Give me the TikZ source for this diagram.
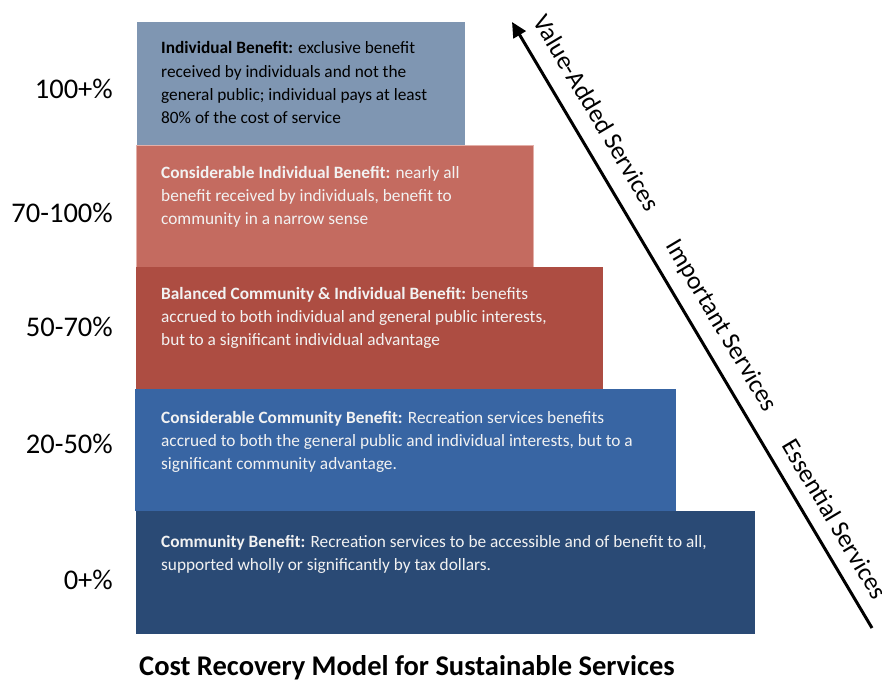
\documentclass[tikz,border=0pt]{standalone}
\usepackage{fontspec}
\setmainfont{Carlito}
\usetikzlibrary{arrows.meta}
\definecolor{cA}{HTML}{7F96B2}
\definecolor{cB}{HTML}{C46B60}
\definecolor{cBl}{HTML}{E3AFA8}
\definecolor{cC}{HTML}{AD4D42}
\definecolor{cD}{HTML}{3865A3}
\definecolor{cE}{HTML}{2A4A75}
\definecolor{txtw}{HTML}{F2F2F2}
\tikzset{
  box/.style={anchor=north west, inner sep=0pt, outer sep=0pt},
  boxtext/.style={anchor=base west, inner sep=0pt, font=\fontsize{17.3}{23.3}\selectfont},
  pct/.style={anchor=base east, inner sep=0pt, font=\fontsize{28.5}{30}\selectfont},
  diag/.style={inner sep=0pt, rotate=-59.25, font=\fontsize{25.5}{27}\selectfont},
}
\begin{document}
\begin{tikzpicture}[x=1pt,y=1pt]
\useasboundingbox (0,0) rectangle (882,-682);
% boxes
\node[box, fill=cA, minimum width=328, minimum height=123] (b1) at (137,-22) {};
\node[box, fill=cB, draw=cBl, line width=0.8pt, minimum width=397, minimum height=122] (b2) at (136,-145) {};
\node[box, fill=cC, minimum width=467, minimum height=122] (b3) at (136,-267) {};
\node[box, fill=cD, minimum width=541, minimum height=122] (b4) at (135,-389) {};
\node[box, fill=cE, minimum width=619, minimum height=123] (b5) at (136,-511) {};
% box texts
\node[boxtext, text=black] (t1) at (161,-54) {\parbox[t]{300pt}{\raggedright\textbf{Individual Benefit:} exclusive benefit\\received by individuals and not the\\general public; individual pays at least\\80\% of the cost of service}};
\node[boxtext, text=txtw] (t2) at (161,-178) {\parbox[t]{360pt}{\raggedright\textbf{Considerable Individual Benefit:} nearly all\\benefit received by individuals, benefit to\\community in a narrow sense}};
\node[boxtext, text=txtw] (t3) at (161,-299) {\parbox[t]{430pt}{\raggedright\textbf{Balanced Community \& Individual Benefit:} benefits\\accrued to both individual and general public interests,\\but to a significant individual advantage}};
\node[boxtext, text=txtw] (t4) at (161,-423) {\parbox[t]{520pt}{\raggedright\textbf{Considerable Community Benefit:} Recreation services benefits\\accrued to both the general public and individual interests, but to a\\significant community advantage.}};
\node[boxtext, text=txtw] (t5) at (161,-547) {\parbox[t]{600pt}{\raggedright\textbf{Community Benefit:} Recreation services to be accessible and of benefit to all,\\supported wholly or significantly by tax dollars.}};
% percentages
\node[pct] (p1) at (113,-99) {100+\%};
\node[pct] (p2) at (113,-222) {70-100\%};
\node[pct] (p3) at (113,-336) {50-70\%};
\node[pct] (p4) at (113,-453) {20-50\%};
\node[pct] (p5) at (113,-589) {0+\%};
% arrow
\coordinate (top) at (512,-22);
\coordinate (bot) at (872,-628);
\draw[line width=3pt, -{Triangle[length=15pt,width=14pt]}] (bot) -- (top);
% diagonal labels
\node[diag] (v) at (597,-113) {Value-Added Services};
\node[diag] (i) at (721,-326) {Important Services};
\node[diag] (e) at (835,-519) {Essential Services};
% title
\node[inner sep=0pt, anchor=base, font=\fontsize{28.5}{30}\selectfont\bfseries] (title) at (407,-675) {Cost Recovery Model for Sustainable Services};
\end{tikzpicture}
\end{document}
